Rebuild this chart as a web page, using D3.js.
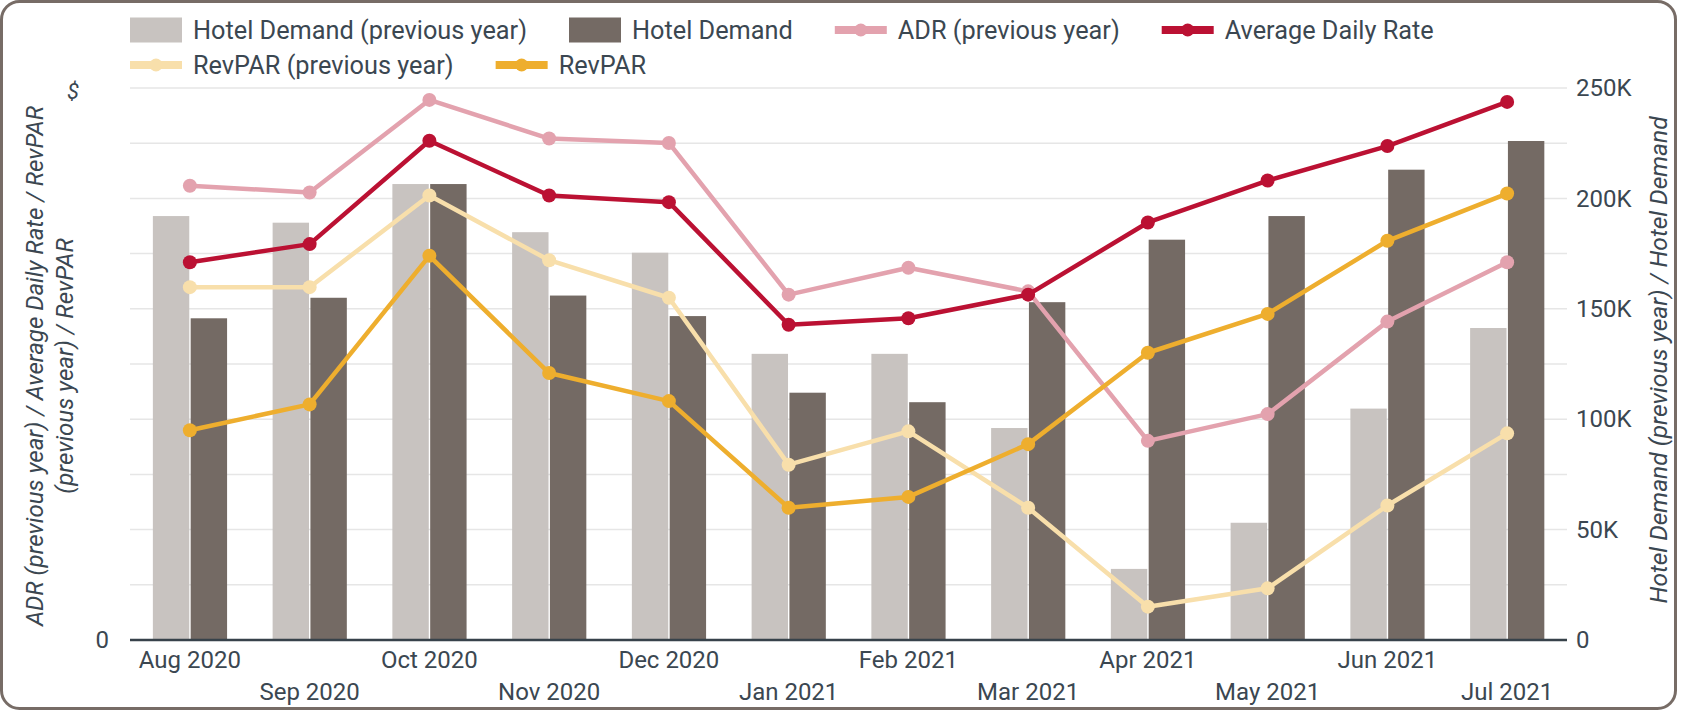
<!DOCTYPE html>
<html>
<head>
<meta charset="utf-8">
<script src="https://cdn.jsdelivr.net/npm/d3@7"></script>
<style>
  body { margin: 0; background: #fff; }
  svg { display: block; font-family: Roboto, "Noto Sans", sans-serif; }
</style>
</head>
<body>
<svg id="chart" width="1685" height="712"></svg>
<script>
// months on the x axis
var months = ["Aug 2020", "Sep 2020", "Oct 2020", "Nov 2020", "Dec 2020", "Jan 2021",
              "Feb 2021", "Mar 2021", "Apr 2021", "May 2021", "Jun 2021", "Jul 2021"];

// hotel demand (right axis)
var demandPrev = [192000, 189000, 206500, 184700, 175400, 129600, 129600, 96000, 32200, 53100, 104800, 141300];
var demand     = [145700, 155000, 206500, 156000, 146700, 112000, 107700, 153000, 181300, 192000, 213000, 226000];

// dollar series (left axis)
var adrPrev    = [205.7, 202.7, 244.6, 227.1, 225.1, 156.4, 168.6, 157.9, 90.2, 102.3, 144.2, 171.1];
var adr        = [171.1, 179.3, 226.1, 201.3, 198.3, 142.8, 145.7, 156.4, 189.1, 208.1, 223.7, 243.7];
var revparPrev = [159.8, 159.8, 201.3, 172.0, 155.0, 79.4, 94.5, 59.9, 15.1, 23.4, 60.9, 93.6];
var revpar     = [95.0, 106.7, 174.0, 120.9, 108.2, 59.9, 64.8, 88.7, 130.1, 147.7, 180.8, 202.2];

var rightTicks = [0, 50000, 100000, 150000, 200000, 250000];

var textCol = "#3b4751";
var svg = d3.select("#chart");

// outer frame
svg.append("rect")
  .attr("x", 1.5).attr("y", 1.5)
  .attr("width", 1674).attr("height", 707)
  .attr("rx", 18)
  .attr("fill", "#fff")
  .attr("stroke", "#776c66")
  .attr("stroke-width", 3);

// plot box (named so they don't clash with window.top)
var pLeft = 130, pRight = 1567, pTop = 88, pBottom = 640;

var x = d3.scaleBand().domain(months).range([pLeft, pRight]).padding(0);
var yR = d3.scaleLinear().domain([0, 250000]).range([pBottom, pTop]);
var yL = d3.scaleLinear().domain([0, 250]).range([pBottom, pTop]);

// grid
svg.append("g").selectAll("line")
  .data(d3.range(25000, 250001, 25000))
  .join("line")
  .attr("x1", pLeft).attr("x2", pRight)
  .attr("y1", d => yR(d)).attr("y2", d => yR(d))
  .attr("stroke", "#e6e6e6").attr("stroke-width", 1.5);

// bars
var bw = x.bandwidth() * 0.304;
var c = d => x(d) + x.bandwidth() / 2;

svg.append("g").selectAll("rect")
  .data(months)
  .join("rect")
  .attr("x", (d) => c(d) - bw - 0.6)
  .attr("width", bw)
  .attr("y", (d, i) => yR(demandPrev[i]))
  .attr("height", (d, i) => pBottom - yR(demandPrev[i]))
  .attr("fill", "#c8c3c0");

svg.append("g").selectAll("rect")
  .data(months)
  .join("rect")
  .attr("x", (d) => c(d) + 0.8)
  .attr("width", bw)
  .attr("y", (d, i) => yR(demand[i]))
  .attr("height", (d, i) => pBottom - yR(demand[i]))
  .attr("fill", "#746a64");

// x axis
svg.append("line")
  .attr("x1", pLeft).attr("x2", pRight)
  .attr("y1", pBottom).attr("y2", pBottom)
  .attr("stroke", "#37424a").attr("stroke-width", 2.5);

svg.append("g").selectAll("text")
  .data(months)
  .join("text")
  .attr("x", d => c(d))
  .attr("y", (d, i) => i % 2 === 0 ? 668 : 700)
  .attr("text-anchor", "middle")
  .attr("font-size", 24)
  .attr("fill", textCol)
  .text(d => d);

// right axis
var rAxis = d3.axisRight(yR)
  .tickValues(rightTicks)
  .tickSize(0)
  .tickPadding(9)
  .tickFormat(d => d === 0 ? "0" : (d / 1000) + "K");
var rg = svg.append("g").attr("transform", "translate(" + pRight + ",0)").call(rAxis);
rg.select(".domain").remove();
rg.selectAll("text")
  .attr("font-size", 24)
  .attr("font-family", "Roboto, sans-serif")
  .attr("fill", textCol);

// left axis: only 0 and $
svg.append("text")
  .attr("x", 109).attr("y", pBottom)
  .attr("dy", "0.35em")
  .attr("text-anchor", "end")
  .attr("font-size", 24)
  .attr("fill", textCol)
  .text("0");
svg.append("text")
  .attr("x", 73).attr("y", 91)
  .attr("dy", "0.35em")
  .attr("text-anchor", "middle")
  .attr("font-size", 22)
  .attr("font-style", "italic")
  .attr("fill", textCol)
  .text("$");

// axis titles
var midY = (pTop + pBottom) / 2;
var lt = svg.append("text")
  .attr("transform", "translate(43," + (midY + 2) + ") rotate(-90)")
  .attr("text-anchor", "middle")
  .attr("font-size", 24)
  .attr("font-style", "italic")
  .attr("fill", textCol);
lt.append("tspan").attr("x", 0).attr("dy", 0).text("ADR (previous year) / Average Daily Rate / RevPAR");
lt.append("tspan").attr("x", 0).attr("dy", 30).text("(previous year) / RevPAR");

svg.append("text")
  .attr("transform", "translate(1667," + (midY - 4) + ") rotate(-90)")
  .attr("text-anchor", "middle")
  .attr("font-size", 24.5)
  .attr("font-style", "italic")
  .attr("fill", textCol)
  .text("Hotel Demand (previous year) / Hotel Demand");

// lines
var lineSeries = [
  { name: "ADR (previous year)", values: adrPrev, color: "#e3a2ae" },
  { name: "Average Daily Rate", values: adr, color: "#bb1133" },
  { name: "RevPAR (previous year)", values: revparPrev, color: "#f8dfab" },
  { name: "RevPAR", values: revpar, color: "#eeae2e" }
];

var line = d3.line()
  .x((d, i) => c(months[i]))
  .y(d => yL(d));

lineSeries.forEach(function (s) {
  var g = svg.append("g");
  g.append("path")
    .attr("d", line(s.values))
    .attr("fill", "none")
    .attr("stroke", s.color)
    .attr("stroke-width", 4.5)
    .attr("stroke-linejoin", "round");
  g.selectAll("circle")
    .data(s.values)
    .join("circle")
    .attr("cx", (d, i) => c(months[i]))
    .attr("cy", d => yL(d))
    .attr("r", 7)
    .attr("fill", s.color);
});

// legend
var legendItems = [
  { name: "Hotel Demand (previous year)", color: "#c8c3c0", type: "bar" },
  { name: "Hotel Demand", color: "#746a64", type: "bar" },
  { name: lineSeries[0].name, color: lineSeries[0].color, type: "line" },
  { name: lineSeries[1].name, color: lineSeries[1].color, type: "line" },
  { name: lineSeries[2].name, color: lineSeries[2].color, type: "line" },
  { name: lineSeries[3].name, color: lineSeries[3].color, type: "line" }
];

var lx = pLeft, row = 0;
var legend = svg.append("g");
legendItems.forEach(function (it) {
  var g = legend.append("g");
  var t = g.append("text")
    .attr("font-size", 25.3)
    .attr("fill", textCol)
    .text(it.name);
  var w = t.node().getComputedTextLength();
  if (lx + 63 + w > pRight) { lx = pLeft; row++; }
  var cy = 30 + row * 35;
  t.attr("x", lx + 63).attr("y", cy + 8.5);
  if (it.type === "bar") {
    g.append("rect").attr("x", lx).attr("y", cy - 12.5)
      .attr("width", 52).attr("height", 25).attr("fill", it.color);
  } else {
    g.append("rect").attr("x", lx).attr("y", cy - 4)
      .attr("width", 52).attr("height", 8).attr("fill", it.color);
    g.append("circle").attr("cx", lx + 26).attr("cy", cy).attr("r", 6.5).attr("fill", it.color);
  }
  lx += 63 + w + 42;
});
</script>
</body>
</html>
